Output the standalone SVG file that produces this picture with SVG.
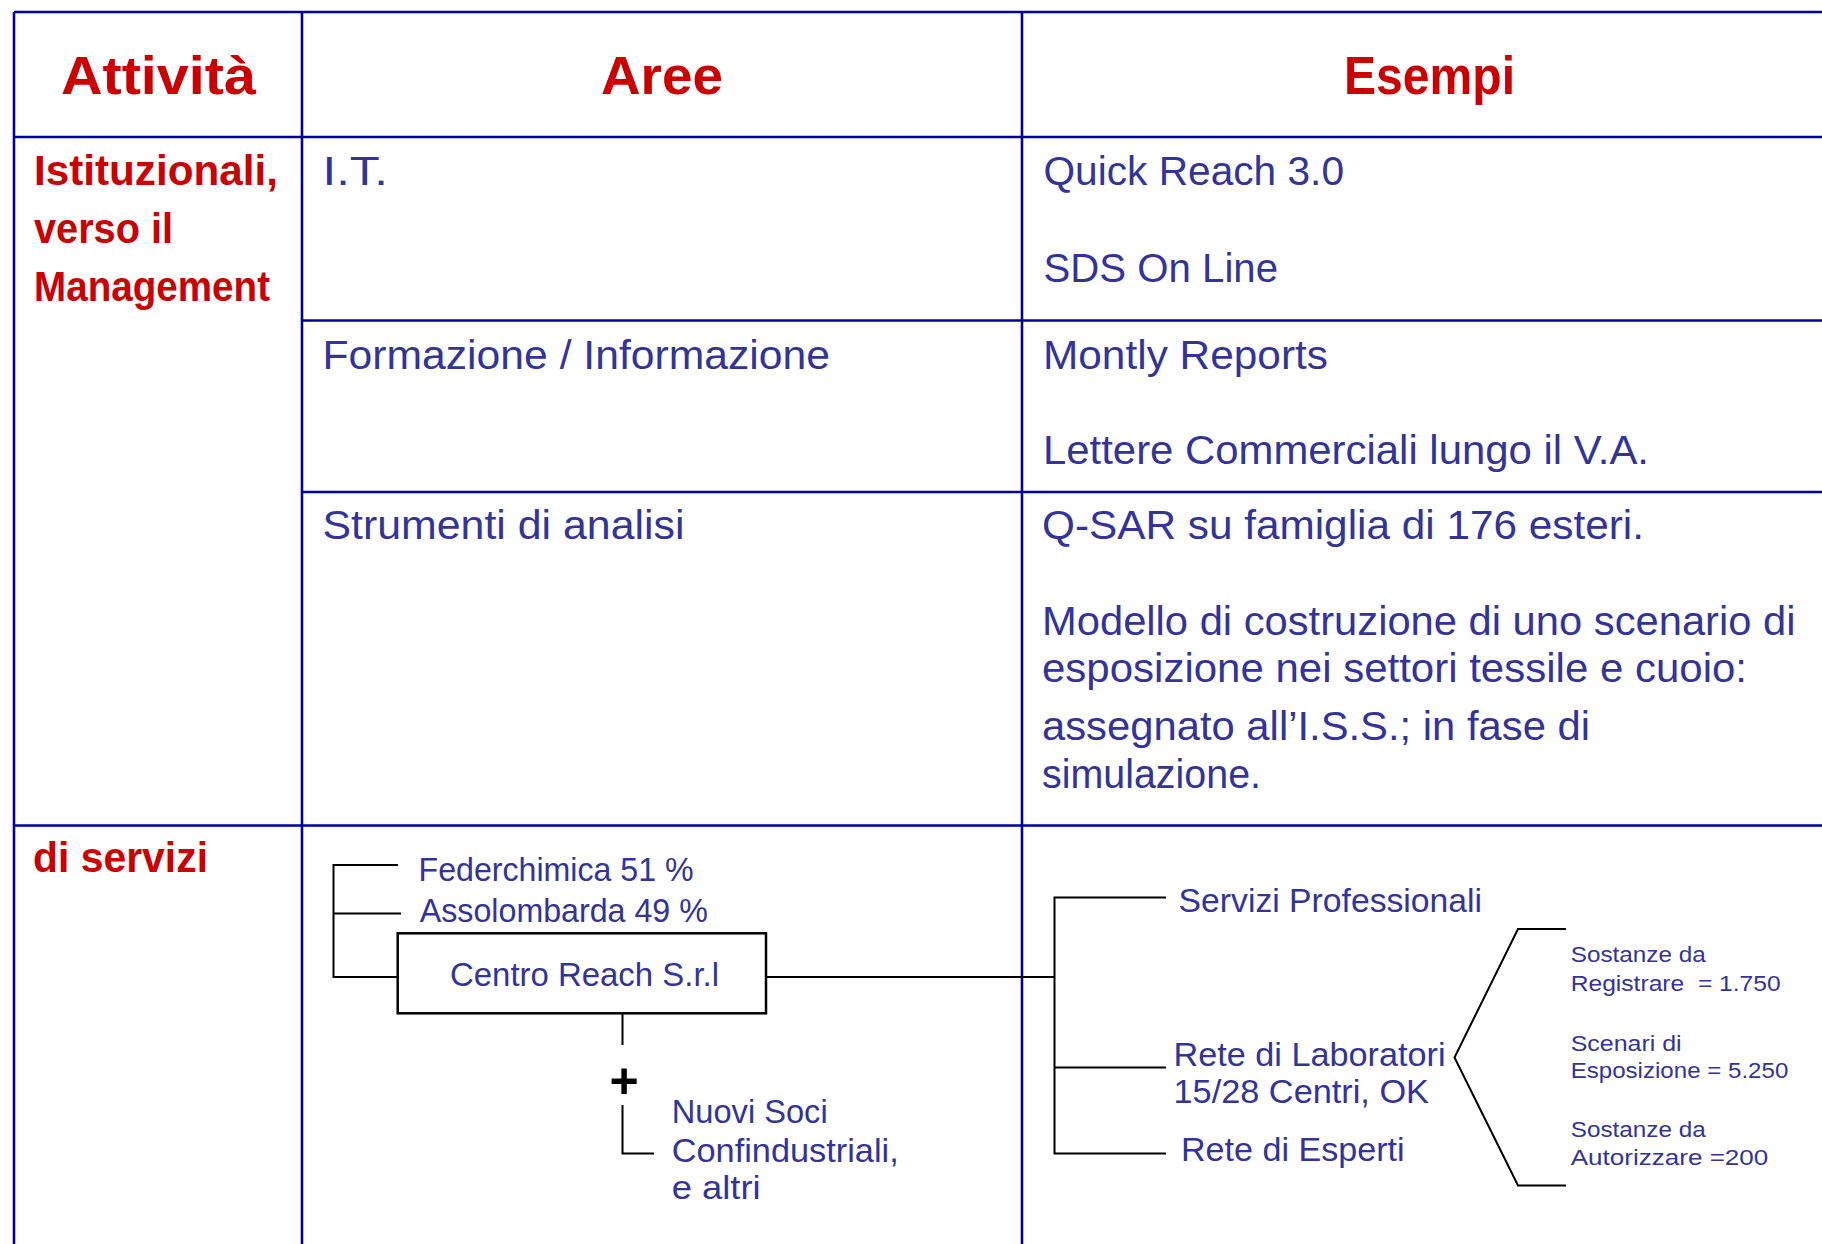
<svg xmlns="http://www.w3.org/2000/svg" width="1822" height="1244" viewBox="0 0 1822 1244">
<style>
.grid{stroke:#0000a0;stroke-width:2.6;fill:none}
.conn{stroke:#000;stroke-width:2;fill:none}
.hd{font-family:"Comic Sans MS","Liberation Sans",sans-serif;font-weight:bold;fill:#cc0000;font-size:54px}
.act{font-family:"Comic Sans MS","Liberation Sans",sans-serif;font-weight:bold;fill:#cc0000;font-size:42px}
.t{font-family:"Comic Sans MS","Liberation Sans",sans-serif;fill:#333399;font-size:41px}
.s{font-family:"Comic Sans MS","Liberation Sans",sans-serif;fill:#333399;font-size:33px}
.xs{font-family:"Comic Sans MS","Liberation Sans",sans-serif;fill:#333399;font-size:22px;white-space:pre}
.plus{font-family:"Liberation Sans",sans-serif;font-weight:bold;fill:#000;font-size:50px}
</style>
<rect width="1822" height="1244" fill="#fff"/>
<g id="table">
<line class="grid" x1="14" y1="12" x2="1822" y2="12"/>
<line class="grid" x1="14" y1="137" x2="1822" y2="137"/>
<line class="grid" x1="302" y1="320.5" x2="1822" y2="320.5"/>
<line class="grid" x1="302" y1="492" x2="1822" y2="492"/>
<line class="grid" x1="14" y1="825.5" x2="1822" y2="825.5"/>
<line class="grid" x1="14" y1="12" x2="14" y2="1244"/>
<line class="grid" x1="302" y1="12" x2="302" y2="1244"/>
<line class="grid" x1="1022" y1="12" x2="1022" y2="1244"/>
</g>
<g id="headers">
<text class="hd" x="61" y="94" textLength="195" lengthAdjust="spacingAndGlyphs">Attività</text>
<text class="hd" x="601" y="94" textLength="122" lengthAdjust="spacingAndGlyphs">Aree</text>
<text class="hd" x="1344" y="94" textLength="171" lengthAdjust="spacingAndGlyphs">Esempi</text>
</g>
<g id="activity-istituzionali">
<text class="act" x="34" y="185" textLength="244" lengthAdjust="spacingAndGlyphs">Istituzionali,</text>
<text class="act" x="34" y="243" textLength="139" lengthAdjust="spacingAndGlyphs">verso il</text>
<text class="act" x="34" y="301" textLength="236" lengthAdjust="spacingAndGlyphs">Management</text>
</g>
<g id="activity-servizi">
<text class="act" x="33" y="872" textLength="175" lengthAdjust="spacingAndGlyphs">di servizi</text>
</g>
<g id="area-it">
<text class="t" x="322.5" y="185" textLength="65.5" lengthAdjust="spacingAndGlyphs">I.T.</text>
</g>
<g id="area-formazione">
<text class="t" x="322.5" y="369" textLength="507.5" lengthAdjust="spacingAndGlyphs">Formazione / Informazione</text>
</g>
<g id="area-strumenti">
<text class="t" x="322.5" y="539" textLength="362" lengthAdjust="spacingAndGlyphs">Strumenti di analisi</text>
</g>
<g id="ex-it">
<text class="t" x="1043.5" y="185" textLength="300.5" lengthAdjust="spacingAndGlyphs">Quick Reach 3.0</text>
<text class="t" x="1043.5" y="281.5" textLength="234.5" lengthAdjust="spacingAndGlyphs">SDS On Line</text>
</g>
<g id="ex-formazione">
<text class="t" x="1043" y="369" textLength="285" lengthAdjust="spacingAndGlyphs">Montly Reports</text>
<text class="t" x="1043" y="464" textLength="606" lengthAdjust="spacingAndGlyphs">Lettere Commerciali lungo il V.A.</text>
</g>
<g id="ex-strumenti">
<text class="t" x="1042" y="539" textLength="602" lengthAdjust="spacingAndGlyphs">Q-SAR su famiglia di 176 esteri.</text>
<text class="t" x="1042" y="635" textLength="753.5" lengthAdjust="spacingAndGlyphs">Modello di costruzione di uno scenario di</text>
<text class="t" x="1042" y="681.5" textLength="705" lengthAdjust="spacingAndGlyphs">esposizione nei settori tessile e cuoio:</text>
<text class="t" x="1042" y="740" textLength="548" lengthAdjust="spacingAndGlyphs">assegnato all’I.S.S.; in fase di</text>
<text class="t" x="1042" y="788" textLength="219" lengthAdjust="spacingAndGlyphs">simulazione.</text>
</g>
<g id="connectors">
<polyline class="conn" points="398,865 333.5,865 333.5,977 398,977"/>
<line class="conn" x1="333.5" y1="913.5" x2="401" y2="913.5"/>
<line class="conn" x1="766" y1="977" x2="1054.5" y2="977"/>
<line class="conn" x1="622.5" y1="1013" x2="622.5" y2="1045"/>
<polyline class="conn" points="622.5,1105 622.5,1153.5 654,1153.5"/>
<polyline class="conn" points="1166,897.5 1054.5,897.5 1054.5,1153.5 1166,1153.5"/>
<line class="conn" x1="1054.5" y1="1067.5" x2="1166" y2="1067.5"/>
<polyline class="conn" points="1566,929 1518,929 1454.5,1057.5 1518,1185.5 1566,1185.5"/>
</g>
<g id="node-federchimica">
<text class="s" x="418.6" y="880.7" textLength="275" lengthAdjust="spacingAndGlyphs">Federchimica 51 %</text>
</g>
<g id="node-assolombarda">
<text class="s" x="419.8" y="921.7" textLength="288" lengthAdjust="spacingAndGlyphs">Assolombarda 49 %</text>
</g>
<g id="node-centro-reach">
<rect x="397.7" y="933.3" width="368.3" height="80" fill="#fff" stroke="#000" stroke-width="2.5"/>
<text class="s" x="450" y="985.7" textLength="269" lengthAdjust="spacingAndGlyphs">Centro Reach S.r.l</text>
</g>
<g id="node-plus">
<text class="plus" x="624" y="1097.5" text-anchor="middle">+</text>
</g>
<g id="node-nuovi-soci">
<text class="s" x="671.7" y="1122.7" textLength="156" lengthAdjust="spacingAndGlyphs">Nuovi Soci</text>
<text class="s" x="671.7" y="1161.7" textLength="227" lengthAdjust="spacingAndGlyphs">Confindustriali,</text>
<text class="s" x="671.7" y="1199" textLength="89" lengthAdjust="spacingAndGlyphs">e altri</text>
</g>
<g id="node-servizi-professionali">
<text class="s" x="1178.6" y="911.7" textLength="303.5" lengthAdjust="spacingAndGlyphs">Servizi Professionali</text>
</g>
<g id="node-rete-laboratori">
<text class="s" x="1173.5" y="1065.7" textLength="272" lengthAdjust="spacingAndGlyphs">Rete di Laboratori</text>
<text class="s" x="1173.5" y="1103.3" textLength="255.5" lengthAdjust="spacingAndGlyphs">15/28 Centri, OK</text>
</g>
<g id="node-rete-esperti">
<text class="s" x="1181" y="1160.7" textLength="223.6" lengthAdjust="spacingAndGlyphs">Rete di Esperti</text>
</g>
<g id="node-registrare">
<text class="xs" x="1570.7" y="962.3" textLength="135" lengthAdjust="spacingAndGlyphs">Sostanze da</text>
<text class="xs" x="1570.7" y="990.7" textLength="210" lengthAdjust="spacingAndGlyphs">Registrare  = 1.750</text>
</g>
<g id="node-scenari">
<text class="xs" x="1570.7" y="1050.7" textLength="111" lengthAdjust="spacingAndGlyphs">Scenari di</text>
<text class="xs" x="1570.7" y="1078.3" textLength="217.6" lengthAdjust="spacingAndGlyphs">Esposizione = 5.250</text>
</g>
<g id="node-autorizzare">
<text class="xs" x="1570.7" y="1137.3" textLength="135" lengthAdjust="spacingAndGlyphs">Sostanze da</text>
<text class="xs" x="1570.7" y="1165" textLength="197.6" lengthAdjust="spacingAndGlyphs">Autorizzare =200</text>
</g>
</svg>
